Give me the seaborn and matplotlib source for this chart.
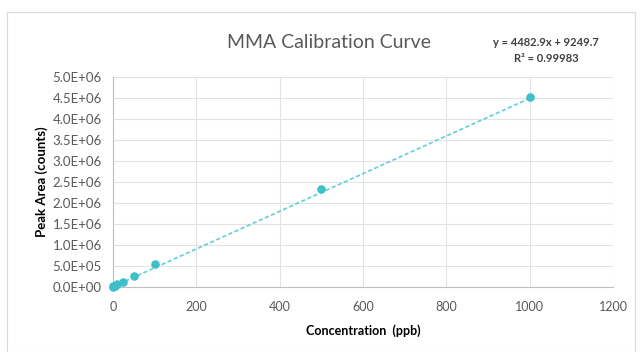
import numpy as np
import pandas as pd
import matplotlib
matplotlib.use("Agg")
import matplotlib.pyplot as plt
import seaborn as sns
from matplotlib.patches import Rectangle
from matplotlib.ticker import FuncFormatter

# calibration standards (ppb) and measured peak areas
concentration = [0, 1, 5, 10, 25, 50, 100, 500, 1000]
peak_area = [5.0e3, 1.5e4, 3.5e4, 6.0e4, 1.3e5, 2.6e5, 5.4e5, 2.34e6, 4.53e6]

# trendline shown on the chart
slope = 4482.9
intercept = 9249.7
r_squared = 0.99983

x_ticks = [0, 200, 400, 600, 800, 1000, 1200]
y_ticks = [i * 5e5 for i in range(11)]

teal = "#3fbfc9"

sns.set_style("whitegrid")
plt.rcParams['font.family'] = ['Lato', 'DejaVu Sans']

df = pd.DataFrame({"conc": concentration, "area": peak_area})
fit_x = np.array([concentration[0], concentration[-1]])
fit = pd.DataFrame({"conc": fit_x, "area": slope * fit_x + intercept})

fig = plt.figure(figsize=(6.41, 3.52), dpi=100)
fig.patches.append(Rectangle((7 / 641, 0), 628 / 641, 1 - 12 / 352,
                             transform=fig.transFigure, fill=False,
                             edgecolor="#d9d9d9", linewidth=0.8))
ax = fig.add_axes([113 / 641, 1 - 287 / 352, 500 / 641, 210 / 352])

sns.lineplot(data=fit, x="conc", y="area", ax=ax, color="#5fd0d6",
             linestyle=(0, (2.5, 1.5)), linewidth=1.2)
sns.scatterplot(data=df, x="conc", y="area", ax=ax, color=teal, s=38,
                edgecolor=teal, linewidth=0, zorder=3, clip_on=False)

ax.set_xlim(0, 1200)
ax.set_ylim(0, 5e6)
ax.set_xticks(x_ticks)
ax.set_yticks(y_ticks)
ax.yaxis.set_major_formatter(FuncFormatter(lambda v, p: "{:.1E}".format(v)))
ax.tick_params(axis="both", labelsize=9, colors="#595959", length=0, pad=10)
ax.tick_params(axis="y", labelsize=9.5, pad=8)
ax.grid(True, color="#e3e3e3", linewidth=0.8)
for side in ["top", "right"]:
    ax.spines[side].set_visible(False)
for side in ["left", "bottom"]:
    ax.spines[side].set_color("#bfbfbf")
    ax.spines[side].set_linewidth(0.8)

ax.set_xlabel("Concentration  (ppb)", fontsize=9, fontweight="bold",
              color="black", labelpad=8)
ax.set_ylabel("Peak Area (counts)", fontsize=9.5, fontweight="bold",
              color="black", labelpad=3)

fig.text(329 / 641, 1 - 42 / 352, "MMA Calibration Curve", fontsize=14,
         color="#595959", ha="center", va="center")
fig.text(546 / 641, 1 - 42 / 352,
         "y = {:.1f}x + {:.1f}".format(slope, intercept),
         fontsize=8, fontweight="bold", color="#404040", ha="center", va="center")
fig.text(546 / 641, 1 - 58 / 352, "R\u00b2 = {:.5f}".format(r_squared),
         fontsize=8, fontweight="bold", color="#404040", ha="center", va="center")

fig.savefig("out.png", dpi=100)
plt.close(fig)
